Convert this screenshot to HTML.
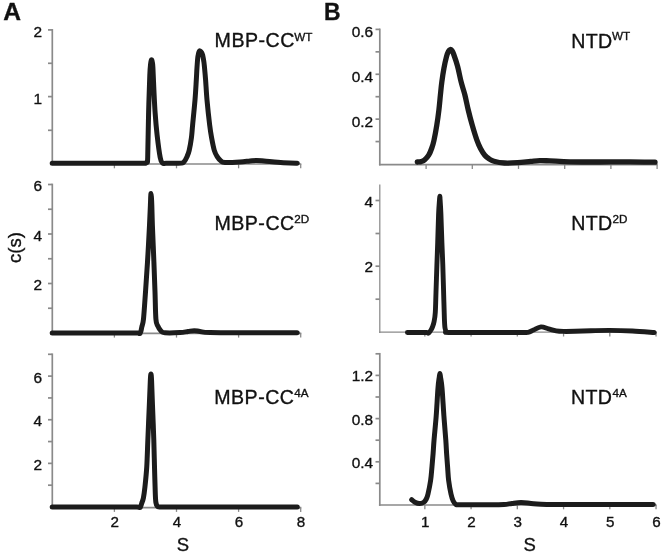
<!DOCTYPE html>
<html><head><meta charset="utf-8"><title>Figure</title>
<style>
html,body{margin:0;padding:0;background:#fff;}
body{width:664px;height:555px;overflow:hidden;font-family:"Liberation Sans",sans-serif;}
svg{display:block;filter:grayscale(1) blur(0.3px);}
svg text{font-family:"Liberation Sans",sans-serif;fill:#111;stroke:#111;stroke-width:0.35px;}
</style></head><body>
<svg width="664" height="555" viewBox="0 0 664 555">
<rect width="664" height="555" fill="#fff"/>
<line x1="52.30" y1="29.05" x2="52.30" y2="164.85" stroke="#8a8a8a" stroke-width="1.70"/>
<line x1="51.45" y1="164.00" x2="301.30" y2="164.00" stroke="#8a8a8a" stroke-width="1.70"/>
<line x1="48.00" y1="29.90" x2="52.30" y2="29.90" stroke="#8a8a8a" stroke-width="1.70"/>
<line x1="48.00" y1="63.30" x2="52.30" y2="63.30" stroke="#8a8a8a" stroke-width="1.70"/>
<line x1="48.00" y1="96.60" x2="52.30" y2="96.60" stroke="#8a8a8a" stroke-width="1.70"/>
<line x1="48.00" y1="130.30" x2="52.30" y2="130.30" stroke="#8a8a8a" stroke-width="1.70"/>
<line x1="114.40" y1="164.00" x2="114.40" y2="168.30" stroke="#8a8a8a" stroke-width="1.30"/>
<line x1="176.50" y1="164.00" x2="176.50" y2="168.30" stroke="#8a8a8a" stroke-width="1.30"/>
<line x1="238.60" y1="164.00" x2="238.60" y2="168.30" stroke="#8a8a8a" stroke-width="1.30"/>
<line x1="300.70" y1="164.00" x2="300.70" y2="168.30" stroke="#8a8a8a" stroke-width="1.30"/>
<text x="42.00" y="36.90" font-size="15.40" text-anchor="end" font-weight="normal" >2</text>
<text x="42.00" y="103.60" font-size="15.40" text-anchor="end" font-weight="normal" >1</text>
<line x1="52.30" y1="183.65" x2="52.30" y2="334.15" stroke="#8a8a8a" stroke-width="1.70"/>
<line x1="51.45" y1="333.30" x2="301.30" y2="333.30" stroke="#8a8a8a" stroke-width="1.70"/>
<line x1="48.00" y1="184.50" x2="52.30" y2="184.50" stroke="#8a8a8a" stroke-width="1.70"/>
<line x1="48.00" y1="209.25" x2="52.30" y2="209.25" stroke="#8a8a8a" stroke-width="1.70"/>
<line x1="48.00" y1="234.00" x2="52.30" y2="234.00" stroke="#8a8a8a" stroke-width="1.70"/>
<line x1="48.00" y1="258.75" x2="52.30" y2="258.75" stroke="#8a8a8a" stroke-width="1.70"/>
<line x1="48.00" y1="283.50" x2="52.30" y2="283.50" stroke="#8a8a8a" stroke-width="1.70"/>
<line x1="48.00" y1="308.25" x2="52.30" y2="308.25" stroke="#8a8a8a" stroke-width="1.70"/>
<line x1="114.40" y1="333.30" x2="114.40" y2="337.60" stroke="#8a8a8a" stroke-width="1.30"/>
<line x1="176.50" y1="333.30" x2="176.50" y2="337.60" stroke="#8a8a8a" stroke-width="1.30"/>
<line x1="238.60" y1="333.30" x2="238.60" y2="337.60" stroke="#8a8a8a" stroke-width="1.30"/>
<line x1="300.70" y1="333.30" x2="300.70" y2="337.60" stroke="#8a8a8a" stroke-width="1.30"/>
<text x="42.00" y="191.40" font-size="15.40" text-anchor="end" font-weight="normal" >6</text>
<text x="42.00" y="240.90" font-size="15.40" text-anchor="end" font-weight="normal" >4</text>
<text x="42.00" y="290.40" font-size="15.40" text-anchor="end" font-weight="normal" >2</text>
<line x1="52.30" y1="353.45" x2="52.30" y2="508.45" stroke="#8a8a8a" stroke-width="1.70"/>
<line x1="51.45" y1="507.60" x2="301.30" y2="507.60" stroke="#8a8a8a" stroke-width="1.70"/>
<line x1="48.00" y1="354.30" x2="52.30" y2="354.30" stroke="#8a8a8a" stroke-width="1.70"/>
<line x1="48.00" y1="376.11" x2="52.30" y2="376.11" stroke="#8a8a8a" stroke-width="1.70"/>
<line x1="48.00" y1="397.93" x2="52.30" y2="397.93" stroke="#8a8a8a" stroke-width="1.70"/>
<line x1="48.00" y1="419.74" x2="52.30" y2="419.74" stroke="#8a8a8a" stroke-width="1.70"/>
<line x1="48.00" y1="441.56" x2="52.30" y2="441.56" stroke="#8a8a8a" stroke-width="1.70"/>
<line x1="48.00" y1="463.37" x2="52.30" y2="463.37" stroke="#8a8a8a" stroke-width="1.70"/>
<line x1="48.00" y1="485.19" x2="52.30" y2="485.19" stroke="#8a8a8a" stroke-width="1.70"/>
<line x1="114.40" y1="507.60" x2="114.40" y2="511.90" stroke="#8a8a8a" stroke-width="1.30"/>
<line x1="176.50" y1="507.60" x2="176.50" y2="511.90" stroke="#8a8a8a" stroke-width="1.30"/>
<line x1="238.60" y1="507.60" x2="238.60" y2="511.90" stroke="#8a8a8a" stroke-width="1.30"/>
<line x1="300.70" y1="507.60" x2="300.70" y2="511.90" stroke="#8a8a8a" stroke-width="1.30"/>
<text x="42.00" y="382.61" font-size="15.40" text-anchor="end" font-weight="normal" >6</text>
<text x="42.00" y="426.24" font-size="15.40" text-anchor="end" font-weight="normal" >4</text>
<text x="42.00" y="469.87" font-size="15.40" text-anchor="end" font-weight="normal" >2</text>
<text x="114.80" y="527.10" font-size="15.20" text-anchor="middle" font-weight="normal" >2</text>
<text x="176.90" y="527.10" font-size="15.20" text-anchor="middle" font-weight="normal" >4</text>
<text x="239.00" y="527.10" font-size="15.20" text-anchor="middle" font-weight="normal" >6</text>
<text x="301.10" y="527.10" font-size="15.20" text-anchor="middle" font-weight="normal" >8</text>
<line x1="379.80" y1="28.55" x2="379.80" y2="165.45" stroke="#8a8a8a" stroke-width="1.70"/>
<line x1="378.95" y1="164.60" x2="657.70" y2="164.60" stroke="#8a8a8a" stroke-width="1.70"/>
<line x1="375.50" y1="29.40" x2="379.80" y2="29.40" stroke="#8a8a8a" stroke-width="1.70"/>
<line x1="375.50" y1="51.83" x2="379.80" y2="51.83" stroke="#8a8a8a" stroke-width="1.70"/>
<line x1="375.50" y1="74.27" x2="379.80" y2="74.27" stroke="#8a8a8a" stroke-width="1.70"/>
<line x1="375.50" y1="96.70" x2="379.80" y2="96.70" stroke="#8a8a8a" stroke-width="1.70"/>
<line x1="375.50" y1="119.13" x2="379.80" y2="119.13" stroke="#8a8a8a" stroke-width="1.70"/>
<line x1="375.50" y1="141.57" x2="379.80" y2="141.57" stroke="#8a8a8a" stroke-width="1.70"/>
<line x1="426.10" y1="164.60" x2="426.10" y2="168.90" stroke="#8a8a8a" stroke-width="1.30"/>
<line x1="472.30" y1="164.60" x2="472.30" y2="168.90" stroke="#8a8a8a" stroke-width="1.30"/>
<line x1="518.50" y1="164.60" x2="518.50" y2="168.90" stroke="#8a8a8a" stroke-width="1.30"/>
<line x1="564.70" y1="164.60" x2="564.70" y2="168.90" stroke="#8a8a8a" stroke-width="1.30"/>
<line x1="610.90" y1="164.60" x2="610.90" y2="168.90" stroke="#8a8a8a" stroke-width="1.30"/>
<line x1="657.10" y1="164.60" x2="657.10" y2="168.90" stroke="#8a8a8a" stroke-width="1.30"/>
<text x="373.10" y="36.90" font-size="15.40" text-anchor="end" font-weight="normal" >0.6</text>
<text x="373.10" y="81.77" font-size="15.40" text-anchor="end" font-weight="normal" >0.4</text>
<text x="373.10" y="126.63" font-size="15.40" text-anchor="end" font-weight="normal" >0.2</text>
<line x1="379.80" y1="184.50" x2="379.80" y2="333.05" stroke="#8a8a8a" stroke-width="1.25"/>
<line x1="379.18" y1="332.20" x2="656.64" y2="332.20" stroke="#8a8a8a" stroke-width="1.30"/>
<line x1="375.50" y1="200.50" x2="379.80" y2="200.50" stroke="#8a8a8a" stroke-width="1.70"/>
<line x1="375.50" y1="233.50" x2="379.80" y2="233.50" stroke="#8a8a8a" stroke-width="1.70"/>
<line x1="375.50" y1="266.20" x2="379.80" y2="266.20" stroke="#8a8a8a" stroke-width="1.70"/>
<line x1="375.50" y1="299.20" x2="379.80" y2="299.20" stroke="#8a8a8a" stroke-width="1.70"/>
<line x1="424.84" y1="332.20" x2="424.84" y2="336.50" stroke="#8a8a8a" stroke-width="1.30"/>
<line x1="471.08" y1="332.20" x2="471.08" y2="336.50" stroke="#8a8a8a" stroke-width="1.30"/>
<line x1="517.32" y1="332.20" x2="517.32" y2="336.50" stroke="#8a8a8a" stroke-width="1.30"/>
<line x1="563.56" y1="332.20" x2="563.56" y2="336.50" stroke="#8a8a8a" stroke-width="1.30"/>
<line x1="609.80" y1="332.20" x2="609.80" y2="336.50" stroke="#8a8a8a" stroke-width="1.30"/>
<line x1="656.04" y1="332.20" x2="656.04" y2="336.50" stroke="#8a8a8a" stroke-width="1.30"/>
<text x="373.00" y="206.50" font-size="15.40" text-anchor="end" font-weight="normal" >4</text>
<text x="373.00" y="272.20" font-size="15.40" text-anchor="end" font-weight="normal" >2</text>
<line x1="379.80" y1="352.95" x2="379.80" y2="505.85" stroke="#8a8a8a" stroke-width="1.70"/>
<line x1="378.95" y1="505.00" x2="656.64" y2="505.00" stroke="#8a8a8a" stroke-width="1.70"/>
<line x1="375.50" y1="353.80" x2="379.80" y2="353.80" stroke="#8a8a8a" stroke-width="1.70"/>
<line x1="375.50" y1="375.40" x2="379.80" y2="375.40" stroke="#8a8a8a" stroke-width="1.70"/>
<line x1="375.50" y1="397.00" x2="379.80" y2="397.00" stroke="#8a8a8a" stroke-width="1.70"/>
<line x1="375.50" y1="418.60" x2="379.80" y2="418.60" stroke="#8a8a8a" stroke-width="1.70"/>
<line x1="375.50" y1="440.20" x2="379.80" y2="440.20" stroke="#8a8a8a" stroke-width="1.70"/>
<line x1="375.50" y1="461.80" x2="379.80" y2="461.80" stroke="#8a8a8a" stroke-width="1.70"/>
<line x1="375.50" y1="483.40" x2="379.80" y2="483.40" stroke="#8a8a8a" stroke-width="1.70"/>
<line x1="424.84" y1="505.00" x2="424.84" y2="509.30" stroke="#8a8a8a" stroke-width="1.30"/>
<line x1="471.08" y1="505.00" x2="471.08" y2="509.30" stroke="#8a8a8a" stroke-width="1.30"/>
<line x1="517.32" y1="505.00" x2="517.32" y2="509.30" stroke="#8a8a8a" stroke-width="1.30"/>
<line x1="563.56" y1="505.00" x2="563.56" y2="509.30" stroke="#8a8a8a" stroke-width="1.30"/>
<line x1="609.80" y1="505.00" x2="609.80" y2="509.30" stroke="#8a8a8a" stroke-width="1.30"/>
<line x1="656.04" y1="505.00" x2="656.04" y2="509.30" stroke="#8a8a8a" stroke-width="1.30"/>
<text x="373.10" y="381.40" font-size="15.40" text-anchor="end" font-weight="normal" >1.2</text>
<text x="373.10" y="424.60" font-size="15.40" text-anchor="end" font-weight="normal" >0.8</text>
<text x="373.10" y="467.80" font-size="15.40" text-anchor="end" font-weight="normal" >0.4</text>
<text x="425.24" y="527.10" font-size="15.20" text-anchor="middle" font-weight="normal" >1</text>
<text x="471.48" y="527.10" font-size="15.20" text-anchor="middle" font-weight="normal" >2</text>
<text x="517.72" y="527.10" font-size="15.20" text-anchor="middle" font-weight="normal" >3</text>
<text x="563.96" y="527.10" font-size="15.20" text-anchor="middle" font-weight="normal" >4</text>
<text x="610.20" y="527.10" font-size="15.20" text-anchor="middle" font-weight="normal" >5</text>
<text x="656.44" y="527.10" font-size="15.20" text-anchor="middle" font-weight="normal" >6</text>
<text x="3.30" y="20.00" font-size="24.60" text-anchor="start" font-weight="bold" >A</text>
<text transform="translate(323.9 20.0) scale(0.94 1)" font-size="24.4" font-weight="bold">B</text>
<text x="183.00" y="551.20" font-size="18.50" text-anchor="middle" font-weight="normal" >S</text>
<text x="529.70" y="551.20" font-size="18.50" text-anchor="middle" font-weight="normal" >S</text>
<text transform="translate(20.5 247.5) rotate(-90)" font-size="18.5" text-anchor="middle">c(s)</text>
<text x="214.60" y="47.20" font-size="19.60" text-anchor="start" font-weight="normal" letter-spacing="0.50">MBP-CC</text>
<text x="294.30" y="40.60" font-size="11.70" text-anchor="start" font-weight="normal" >WT</text>
<text x="214.40" y="230.20" font-size="19.60" text-anchor="start" font-weight="normal" letter-spacing="0.50">MBP-CC</text>
<text x="294.20" y="222.70" font-size="11.70" text-anchor="start" font-weight="normal" >2D</text>
<text x="214.20" y="404.20" font-size="19.60" text-anchor="start" font-weight="normal" letter-spacing="0.50">MBP-CC</text>
<text x="294.30" y="397.10" font-size="11.70" text-anchor="start" font-weight="normal" >4A</text>
<text x="571.20" y="47.50" font-size="19.60" text-anchor="start" font-weight="normal" letter-spacing="0.30">NTD</text>
<text x="612.00" y="40.30" font-size="11.70" text-anchor="start" font-weight="normal" >WT</text>
<text x="571.20" y="230.20" font-size="19.60" text-anchor="start" font-weight="normal" letter-spacing="0.30">NTD</text>
<text x="612.40" y="223.40" font-size="11.70" text-anchor="start" font-weight="normal" >2D</text>
<text x="571.10" y="404.10" font-size="19.60" text-anchor="start" font-weight="normal" letter-spacing="0.30">NTD</text>
<text x="612.50" y="397.10" font-size="11.70" text-anchor="start" font-weight="normal" >4A</text>
<path transform="scale(1.000 1)" d="M52.20 163.25 C60.17 163.25 85.37 163.25 100.00 163.25 C114.63 163.25 132.40 163.25 140.00 163.25 C147.60 163.25 144.45 163.49 145.60 163.25 C146.75 163.01 146.55 162.76 146.90 161.80 C147.25 160.84 147.42 165.72 147.70 157.50 C147.98 149.28 148.25 126.25 148.60 112.50 C148.95 98.75 149.47 83.08 149.80 75.00 C150.13 66.92 150.32 66.53 150.60 64.00 C150.88 61.47 151.20 60.03 151.50 59.80 C151.80 59.57 152.17 61.32 152.40 62.60 C152.63 63.88 152.65 62.93 152.90 67.50 C153.15 72.07 153.53 82.50 153.90 90.00 C154.27 97.50 154.57 105.00 155.10 112.50 C155.63 120.00 156.25 127.50 157.10 135.00 C157.95 142.50 159.30 152.82 160.20 157.50 C161.10 162.18 161.53 162.09 162.50 163.05 C163.47 164.01 163.92 163.22 166.00 163.25 C168.08 163.28 172.42 163.27 175.00 163.25 C177.58 163.23 180.00 163.38 181.50 163.15 C183.00 162.93 183.08 162.98 184.00 161.90 C184.92 160.82 186.13 158.62 187.00 156.70 C187.87 154.78 188.47 153.55 189.20 150.40 C189.93 147.25 190.83 142.00 191.40 137.80 C191.97 133.60 192.00 131.50 192.60 125.20 C193.20 118.90 194.38 107.53 195.00 100.00 C195.62 92.47 195.97 85.42 196.30 80.00 C196.63 74.58 196.73 71.42 197.00 67.50 C197.27 63.58 197.53 59.20 197.90 56.50 C198.27 53.80 198.68 52.10 199.20 51.30 C199.72 50.50 200.43 51.12 201.00 51.70 C201.57 52.28 202.12 53.08 202.60 54.80 C203.08 56.52 203.58 59.88 203.90 62.00 C204.22 64.12 204.22 64.50 204.50 67.50 C204.78 70.50 205.18 74.58 205.60 80.00 C206.02 85.42 206.32 92.47 207.00 100.00 C207.68 107.53 208.93 118.90 209.70 125.20 C210.47 131.50 210.83 133.60 211.60 137.80 C212.37 142.00 213.37 147.25 214.30 150.40 C215.23 153.55 216.08 154.92 217.20 156.70 C218.32 158.48 219.70 160.15 221.00 161.10 C222.30 162.05 221.83 162.27 225.00 162.40 C228.17 162.53 235.83 162.15 240.00 161.90 C244.17 161.65 247.22 161.15 250.00 160.90 C252.78 160.65 254.37 160.40 256.70 160.40 C259.03 160.40 260.48 160.60 264.00 160.90 C267.52 161.20 273.47 161.86 277.80 162.20 C282.13 162.54 286.75 162.79 290.00 162.95 C293.25 163.11 296.08 163.12 297.30 163.15" fill="none" stroke="#1c1c1c" stroke-width="5.00" stroke-linecap="round" stroke-linejoin="round"/>
<path transform="scale(1.000 1)" d="M52.20 332.90 C60.17 332.90 85.95 332.90 100.00 332.90 C114.05 332.90 129.93 332.80 136.50 332.90 C143.07 333.00 138.68 333.72 139.40 333.50 C140.12 333.28 140.40 332.68 140.80 331.60 C141.20 330.52 141.35 329.10 141.80 327.00 C142.25 324.90 142.88 324.83 143.50 319.00 C144.12 313.17 144.83 301.50 145.50 292.00 C146.17 282.50 146.83 273.08 147.50 262.00 C148.17 250.92 149.02 235.00 149.50 225.50 C149.98 216.00 150.20 209.75 150.40 205.00 C150.60 200.25 150.60 198.93 150.70 197.00 C150.80 195.07 150.88 193.40 151.00 193.40 C151.12 193.40 151.27 195.07 151.40 197.00 C151.53 198.93 151.63 200.25 151.80 205.00 C151.97 209.75 152.05 216.00 152.40 225.50 C152.75 235.00 153.47 250.92 153.90 262.00 C154.33 273.08 154.67 282.50 155.00 292.00 C155.33 301.50 155.45 313.37 155.90 319.00 C156.35 324.63 156.85 323.80 157.70 325.80 C158.55 327.80 159.78 329.83 161.00 331.00 C162.22 332.17 161.83 332.53 165.00 332.80 C168.17 333.07 176.17 332.82 180.00 332.60 C183.83 332.38 185.63 331.82 188.00 331.50 C190.37 331.18 192.20 330.70 194.20 330.70 C196.20 330.70 197.37 331.18 200.00 331.50 C202.63 331.82 201.67 332.38 210.00 332.60 C218.33 332.82 235.45 332.77 250.00 332.80 C264.55 332.83 289.42 332.80 297.30 332.80" fill="none" stroke="#1c1c1c" stroke-width="5.00" stroke-linecap="round" stroke-linejoin="round"/>
<path transform="scale(1.000 1)" d="M52.20 507.00 C60.17 507.00 85.95 507.00 100.00 507.00 C114.05 507.00 129.92 506.90 136.50 507.00 C143.08 507.10 138.78 507.73 139.50 507.60 C140.22 507.47 140.42 506.97 140.80 506.20 C141.18 505.43 141.37 504.37 141.80 503.00 C142.23 501.63 142.88 500.62 143.40 498.00 C143.92 495.38 144.34 492.47 144.90 487.30 C145.46 482.13 146.26 474.88 146.75 467.00 C147.24 459.12 147.42 450.25 147.85 440.00 C148.28 429.75 148.89 415.33 149.30 405.50 C149.71 395.67 150.03 386.23 150.30 381.00 C150.58 375.77 150.73 374.10 150.95 374.10 C151.17 374.10 151.34 375.77 151.60 381.00 C151.86 386.23 152.13 395.67 152.50 405.50 C152.87 415.33 153.47 429.75 153.80 440.00 C154.13 450.25 154.25 458.00 154.50 467.00 C154.75 476.00 155.07 488.08 155.30 494.00 C155.53 499.92 155.58 500.50 155.90 502.50 C156.22 504.50 156.60 505.25 157.20 506.00 C157.80 506.75 157.37 506.83 159.50 507.00 C161.63 507.17 158.25 507.00 170.00 507.00 C181.75 507.00 208.78 507.00 230.00 507.00 C251.22 507.00 286.08 507.00 297.30 507.00" fill="none" stroke="#1c1c1c" stroke-width="5.00" stroke-linecap="round" stroke-linejoin="round"/>
<path transform="scale(1.000 1)" d="M417.30 162.00 C417.92 161.93 419.80 161.93 421.00 161.60 C422.20 161.27 423.22 161.07 424.50 160.00 C425.78 158.93 427.48 157.20 428.70 155.20 C429.92 153.20 430.92 150.50 431.80 148.00 C432.68 145.50 433.17 144.02 434.00 140.20 C434.83 136.38 435.98 130.13 436.80 125.10 C437.62 120.07 438.30 115.02 438.90 110.00 C439.50 104.98 439.92 99.63 440.40 95.00 C440.88 90.37 441.22 86.60 441.80 82.20 C442.38 77.80 443.12 72.87 443.90 68.60 C444.68 64.33 445.73 59.48 446.50 56.60 C447.27 53.72 447.88 52.48 448.50 51.30 C449.12 50.12 449.62 49.60 450.20 49.50 C450.78 49.40 451.43 49.95 452.00 50.70 C452.57 51.45 452.68 51.45 453.60 54.00 C454.52 56.55 456.23 61.30 457.50 66.00 C458.77 70.70 459.97 77.37 461.20 82.20 C462.43 87.03 463.72 90.37 464.90 95.00 C466.07 99.63 467.03 104.98 468.25 110.00 C469.47 115.02 470.76 120.07 472.20 125.10 C473.64 130.13 475.52 136.30 476.90 140.20 C478.28 144.10 479.18 146.00 480.50 148.50 C481.82 151.00 483.38 153.48 484.80 155.20 C486.22 156.92 487.47 157.80 489.00 158.80 C490.53 159.80 491.42 160.50 494.00 161.20 C496.58 161.90 500.57 162.75 504.50 163.00 C508.43 163.25 513.25 162.97 517.60 162.70 C521.95 162.43 526.90 161.75 530.60 161.40 C534.30 161.05 536.57 160.68 539.80 160.60 C543.03 160.52 544.97 160.70 550.00 160.90 C555.03 161.10 561.67 161.62 570.00 161.80 C578.33 161.98 590.00 162.00 600.00 162.00 C610.00 162.00 620.83 161.77 630.00 161.80 C639.17 161.83 650.83 162.13 655.00 162.20" fill="none" stroke="#1c1c1c" stroke-width="5.30" stroke-linecap="round" stroke-linejoin="round"/>
<path transform="scale(1.000 1)" d="M407.40 332.50 C408.67 332.50 411.82 332.50 415.00 332.50 C418.18 332.50 424.28 332.38 426.50 332.50 C428.72 332.62 427.75 333.33 428.30 333.20 C428.85 333.07 429.32 332.30 429.80 331.70 C430.28 331.10 430.77 330.35 431.20 329.60 C431.63 328.85 431.92 328.50 432.40 327.20 C432.88 325.90 433.57 324.28 434.05 321.80 C434.53 319.32 434.98 317.27 435.30 312.30 C435.62 307.33 435.73 299.88 436.00 292.00 C436.27 284.12 436.62 273.23 436.90 265.00 C437.18 256.77 437.42 251.13 437.70 242.60 C437.98 234.07 438.31 220.82 438.60 213.80 C438.89 206.78 439.25 203.42 439.45 200.50 C439.65 197.58 439.68 196.30 439.80 196.30 C439.92 196.30 439.97 197.58 440.15 200.50 C440.33 203.42 440.61 206.78 440.90 213.80 C441.19 220.82 441.58 234.07 441.90 242.60 C442.22 251.13 442.52 256.77 442.80 265.00 C443.08 273.23 443.33 283.00 443.60 292.00 C443.87 301.00 444.17 313.00 444.40 319.00 C444.63 325.00 444.70 325.92 445.00 328.00 C445.30 330.08 445.62 330.75 446.20 331.50 C446.78 332.25 442.87 332.33 448.50 332.50 C454.13 332.67 468.08 332.50 480.00 332.50 C491.92 332.50 512.00 332.53 520.00 332.50 C528.00 332.47 525.75 332.72 528.00 332.30 C530.25 331.88 531.33 330.90 533.50 330.00 C535.67 329.10 538.50 327.10 541.00 326.90 C543.50 326.70 545.97 328.15 548.50 328.80 C551.03 329.45 553.72 330.37 556.20 330.80 C558.68 331.23 560.27 331.32 563.40 331.40 C566.53 331.48 570.43 331.40 575.00 331.30 C579.57 331.20 585.00 330.95 590.80 330.80 C596.60 330.65 602.87 330.37 609.80 330.40 C616.73 330.43 625.00 330.65 632.40 331.00 C639.80 331.35 650.57 332.25 654.20 332.50" fill="none" stroke="#1c1c1c" stroke-width="4.90" stroke-linecap="round" stroke-linejoin="round"/>
<path transform="scale(1.000 1)" d="M411.70 499.70 C412.25 500.13 413.68 501.65 415.00 502.30 C416.32 502.95 418.13 503.62 419.60 503.60 C421.07 503.58 422.68 502.97 423.80 502.20 C424.92 501.43 425.60 500.37 426.30 499.00 C427.00 497.63 427.28 497.08 428.00 494.00 C428.72 490.92 429.94 485.00 430.60 480.50 C431.26 476.00 431.54 471.50 431.96 467.00 C432.38 462.50 432.75 458.00 433.10 453.50 C433.45 449.00 433.53 446.27 434.05 440.00 C434.57 433.73 435.54 424.58 436.20 415.90 C436.86 407.22 437.48 394.38 438.00 387.90 C438.52 381.42 438.98 379.40 439.30 377.00 C439.62 374.60 439.70 373.50 439.90 373.50 C440.10 373.50 440.15 374.60 440.50 377.00 C440.85 379.40 441.43 381.42 442.00 387.90 C442.57 394.38 443.27 407.22 443.90 415.90 C444.53 424.58 445.35 433.73 445.80 440.00 C446.25 446.27 446.30 449.00 446.60 453.50 C446.90 458.00 447.26 462.50 447.60 467.00 C447.94 471.50 448.08 476.00 448.65 480.50 C449.22 485.00 450.24 490.58 451.00 494.00 C451.76 497.42 452.37 499.27 453.20 501.00 C454.03 502.73 454.87 503.77 456.00 504.40 C457.13 505.03 454.33 504.73 460.00 504.80 C465.67 504.87 482.67 504.85 490.00 504.80 C497.33 504.75 500.33 504.73 504.00 504.50 C507.67 504.27 509.17 503.72 512.00 503.40 C514.83 503.08 517.83 502.60 521.00 502.60 C524.17 502.60 527.67 503.13 531.00 503.40 C534.33 503.67 534.50 504.00 541.00 504.20 C547.50 504.40 558.50 504.55 570.00 504.60 C581.50 504.65 596.12 504.50 610.00 504.50 C623.88 504.50 646.08 504.58 653.30 504.60" fill="none" stroke="#1c1c1c" stroke-width="5.00" stroke-linecap="round" stroke-linejoin="round"/>
</svg>
</body></html>
